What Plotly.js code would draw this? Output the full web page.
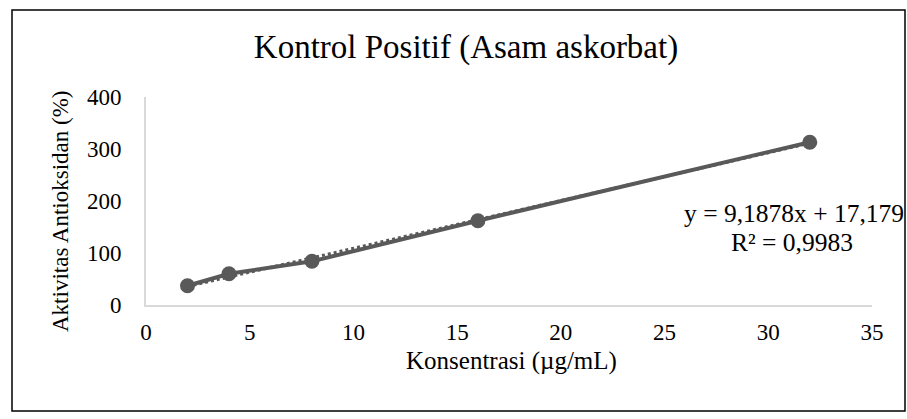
<!DOCTYPE html>
<html>
<head>
<meta charset="utf-8">
<script src="https://cdn.plot.ly/plotly-3.0.1.min.js"></script>
<style>
html,body{margin:0;padding:0;background:#fff;}
#chart{width:907px;height:419px;}
</style>
</head>
<body>
<div id="chart"></div>
<script>
// Data
const konsentrasi = [2, 4, 8, 16, 32];
const aktivitas = [37, 60, 84, 162, 313];
// Trendline coefficients as printed on the chart
const slope = 9.1878;
const intercept = 17.179;
const r2 = 0.9983;
const xTicks = [0, 5, 10, 15, 20, 25, 30, 35];
const yTicks = [0, 100, 200, 300, 400];

const fmt = (v, d) => v.toFixed(d).replace('.', ',');
const trendX = [konsentrasi[0], konsentrasi[konsentrasi.length - 1]];
const trendY = trendX.map(x => slope * x + intercept);

const font = 'Liberation Serif';
const gray = '#595959';

// plot area in pixels: x 146..872, y 97..305
const L = 146, R = 872, T = 97, B = 305, W = 907, H = 419;
const px = x => (x - L) / (R - L);
const py = y => (B - y) / (B - T);

const traces = [
  {
    x: trendX, y: trendY, mode: 'lines', type: 'scatter',
    line: {color: gray, width: 3, dash: 'dot'}, hoverinfo: 'skip', showlegend: false
  },
  {
    x: konsentrasi, y: aktivitas, mode: 'lines+markers', type: 'scatter',
    line: {color: gray, width: 4},
    marker: {color: gray, size: 15}, showlegend: false
  }
];

const layout = {
  width: W, height: H,
  margin: {l: L, r: W - R, t: T, b: H - B},
  paper_bgcolor: '#fff', plot_bgcolor: '#fff',
  font: {family: font, color: '#000', size: 23},
  title: {text: 'Kontrol Positif (Asam askorbat)', font: {family: font, size: 33, color: '#000'},
          x: 466 / W, xref: 'container', y: 1 - 46 / H, yref: 'container', xanchor: 'center', yanchor: 'middle'},
  xaxis: {
    range: [0, 35], tickvals: xTicks, ticktext: xTicks.map(String),
    showgrid: false, zeroline: false, showline: true, linecolor: '#d9d9d9', linewidth: 2,
    ticks: 'outside', ticklen: 5, tickcolor: 'rgba(0,0,0,0)',
    tickfont: {family: font, size: 23, color: '#000'}
  },
  yaxis: {
    range: [0, 400], tickvals: yTicks, ticktext: yTicks.map(String),
    showgrid: false, zeroline: false, showline: true, linecolor: '#d9d9d9', linewidth: 2,
    ticks: 'outside', ticklen: 18, tickcolor: 'rgba(0,0,0,0)',
    tickfont: {family: font, size: 23, color: '#000'}
  },
  annotations: [
    {
      xref: 'paper', yref: 'paper', x: px(511), y: py(361),
      text: 'Konsentrasi (µg/mL)', showarrow: false, xanchor: 'center', yanchor: 'middle',
      font: {family: font, size: 25, color: '#000'}
    },
    {
      xref: 'paper', yref: 'paper', x: px(60), y: py(212), textangle: -90,
      text: 'Aktivitas Antioksidan (%)', showarrow: false, xanchor: 'center', yanchor: 'middle',
      font: {family: font, size: 23, color: '#000'}
    },
    {
      xref: 'paper', yref: 'paper', x: px(794), y: py(213),
      text: 'y = ' + fmt(slope, 4) + 'x + ' + fmt(intercept, 3),
      showarrow: false, xanchor: 'center', yanchor: 'middle',
      font: {family: font, size: 25.5, color: '#000'}
    },
    {
      xref: 'paper', yref: 'paper', x: px(792), y: py(242),
      text: 'R² = ' + fmt(r2, 4),
      showarrow: false, xanchor: 'center', yanchor: 'middle',
      font: {family: font, size: 25.5, color: '#000'}
    }
  ],
  shapes: [
    {type: 'rect', xref: 'paper', yref: 'paper', x0: px(12), x1: px(905),
     y0: py(411), y1: py(10), line: {color: '#000', width: 1.5}, fillcolor: 'rgba(0,0,0,0)', layer: 'below'}
  ]
};

Plotly.newPlot('chart', traces, layout, {displayModeBar: false, staticPlot: true});
</script>
</body>
</html>
